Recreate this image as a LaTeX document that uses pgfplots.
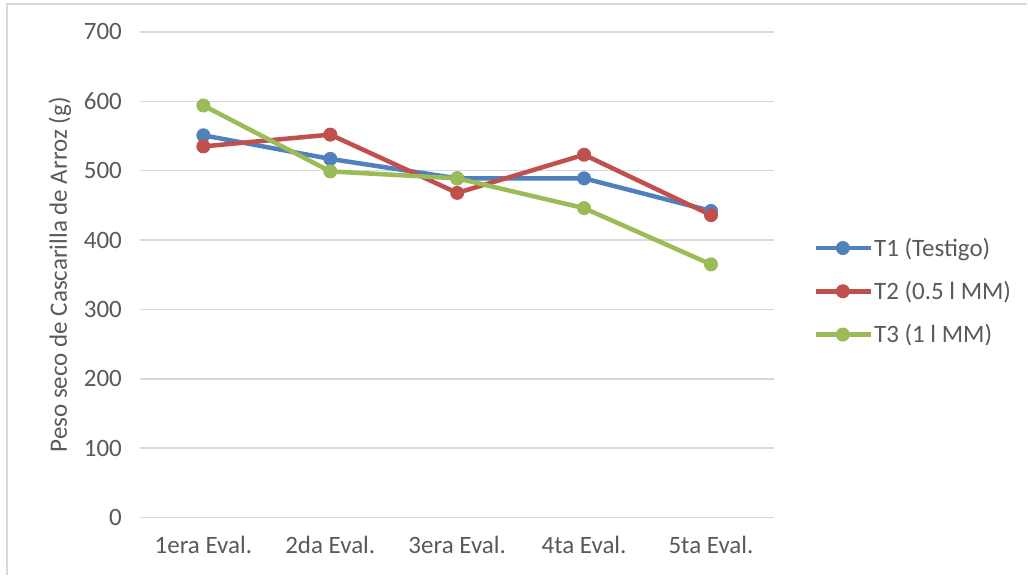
\documentclass[border=0pt]{standalone}
\usepackage{pgfplots}
\pgfplotsset{compat=1.18}
\usepackage{fontspec}
\setmainfont{Carlito}
\definecolor{tblue}{HTML}{4F81BD}
\definecolor{tred}{HTML}{C0504D}
\definecolor{tgreen}{HTML}{9BBB59}
\definecolor{gridgray}{HTML}{D9D9D9}
\definecolor{textgray}{HTML}{595959}
\begin{document}
\begin{tikzpicture}
\begin{axis}[
  scale only axis,
  width=635pt, height=486pt,
  clip=false,
  xmin=0.5, xmax=5.5, ymin=0, ymax=700,
  xtick={1,2,3,4,5},
  xticklabels={1era Eval.,2da Eval.,3era Eval.,4ta Eval.,5ta Eval.},
  ytick={0,100,...,700},
  ymajorgrids,
  grid style={draw=gridgray, line width=1.5pt},
  axis x line*=bottom, axis y line*=left,
  x axis line style={draw=gridgray, line width=1.5pt, -},
  y axis line style={draw=none},
  major tick length=0pt,
  tick style={draw=none},
  /pgf/number format/assume math mode=true,
  ticklabel style={font=\fontsize{25}{29}\selectfont, text=textgray},
  yticklabel style={xshift=-14.5pt},
  xticklabel style={yshift=-15pt},
  every axis y label/.style={at={(rel axis cs:-0.126,0.5)}, rotate=90, anchor=center},
  ylabel={Peso seco de Cascarilla de Arroz (g)},
  label style={font=\fontsize{25}{29}\selectfont, text=textgray},
  legend style={at={(rel axis cs:1.0567,0.582)}, anchor=north west, draw=none, fill=none,
    font=\fontsize{25}{29}\selectfont, text=textgray, row sep=21.5pt,
    nodes={inner sep=1pt}},
  legend cell align=left,
  legend image code/.code={\draw[mark repeat=2,mark phase=2] plot coordinates {(0pt,0pt) (27pt,0pt) (55pt,0pt)};},
  every axis plot/.append style={line width=4.5pt, mark=*, mark size=6.5pt, mark options={solid, line width=1pt}},
]
\addplot[color=tblue] coordinates {(1,551) (2,517) (3,489) (4,489) (5,442)};
\addlegendentry{T1 (Testigo)}
\addplot[color=tred] coordinates {(1,535) (2,552) (3,468) (4,523) (5,436)};
\addlegendentry{T2 (0.5 l MM)}
\addplot[color=tgreen] coordinates {(1,594) (2,499) (3,489) (4,446) (5,365)};
\addlegendentry{T3 (1 l MM)}
\draw[gridgray, line width=1.5pt] (rel axis cs:-0.2094,-0.1173) -- (rel axis cs:-0.2094,1.0576) -- (rel axis cs:1.3984,1.0576);
\useasboundingbox (rel axis cs:-0.2205,-0.1173) rectangle (rel axis cs:1.3984,1.0658);
\end{axis}
\end{tikzpicture}
\end{document}
